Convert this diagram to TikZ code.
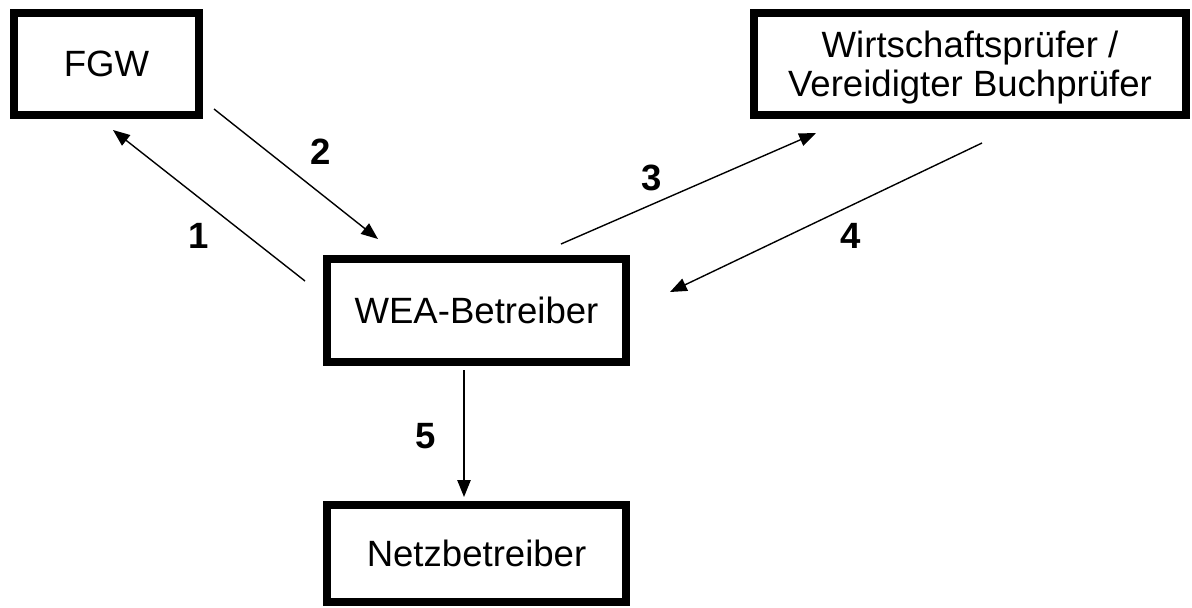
\documentclass[tikz,border=0pt]{standalone}
\usepackage{fontspec}
\setmainfont{Liberation Sans}
\usetikzlibrary{arrows.meta}

\begin{document}
\begin{tikzpicture}[x=0.025cm, y=-0.025cm,
		font=\fontsize{26}{28}\selectfont,
		partner/.style={draw, line width=0.2cm, inner sep=0pt, align=center},
		flow/.style={-{Triangle[length=0.42cm, width=0.33cm]}, line width=0.035cm},
		num/.style={font=\fontsize{26}{28}\selectfont\bfseries}]
			\useasboundingbox (0, 0) rectangle (1192, 607);
			%%%%% START %%%%%
			\node[partner, minimum width=4.625cm, minimum height=2.55cm] (fgw) at (106.5, 64) {FGW};
			\node[partner, minimum width=10.8cm, minimum height=2.55cm, text depth=0pt] (wp) at (970, 64) {Wirtschaftsprüfer /\\Vereidigter Buchprüfer};
			\node[partner, minimum width=7.475cm, minimum height=2.575cm] (wea) at (476.5, 310.5) {WEA-Betreiber};
			\node[partner, minimum width=7.475cm, minimum height=2.425cm] (netz) at (476.5, 553.5) {Netzbetreiber};
			
			\coordinate (a1s) at (305, 281);
			\coordinate (a1e) at (113, 130);
			\coordinate (a2s) at (214, 109);
			\coordinate (a2e) at (378, 239);
			\coordinate (a3s) at (561, 244);
			\coordinate (a3e) at (816, 133);
			\coordinate (a4s) at (982, 143);
			\coordinate (a4e) at (670, 292);
			\coordinate (a5s) at (464, 370);
			\coordinate (a5e) at (464, 497);
			
			\draw[flow] (a1s) -- (a1e);
			\draw[flow] (a2s) -- (a2e);
			\draw[flow] (a3s) -- (a3e);
			\draw[flow] (a4s) -- (a4e);
			\draw[flow] (a5s) -- (a5e);
			
			\node[num] (l1) at (199, 236) {1};
			\node[num] (l2) at (321, 152) {2};
			\node[num] (l3) at (652, 178) {3};
			\node[num] (l4) at (851, 236) {4};
			\node[num] (l5) at (425.5, 436) {5};
			%%%%% END %%%%%
		\end{tikzpicture}
\end{document}
